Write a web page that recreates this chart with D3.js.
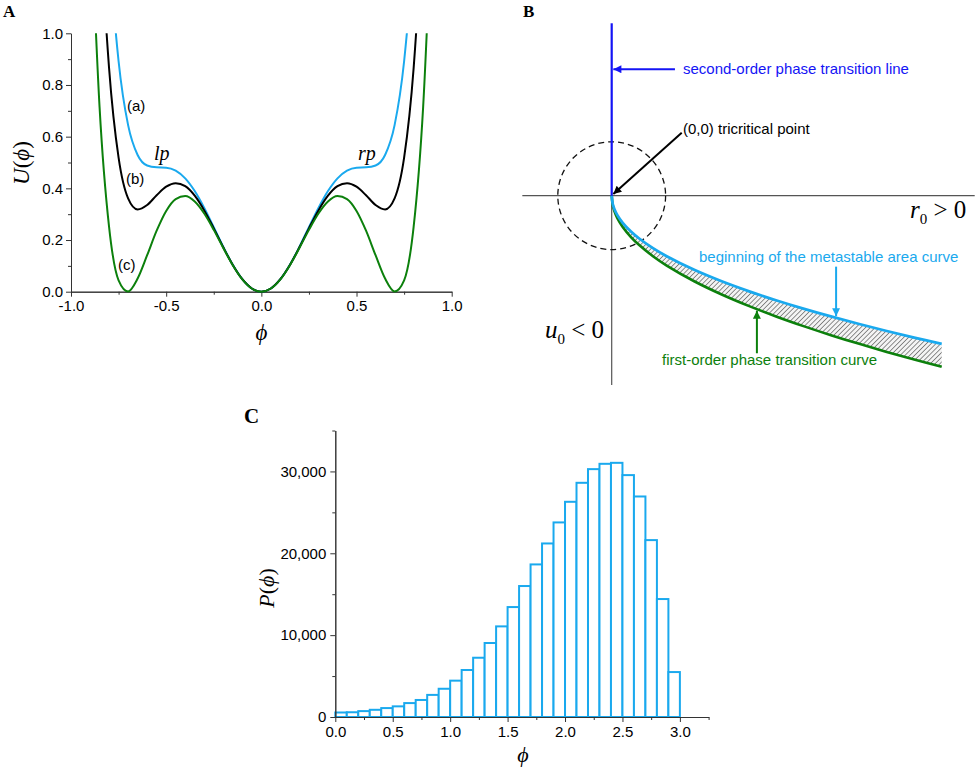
<!DOCTYPE html>
<html>
<head>
<meta charset="utf-8">
<script src="https://cdn.jsdelivr.net/npm/d3@7"></script>
<style>
body { margin: 0; background: #fff; }
svg { font-family: "Liberation Sans", Arial, sans-serif; }
</style>
</head>
<body>
<script>
// ---- panel A : potentials U(phi) ----
var phiA = [-0.90,-0.85,-0.80,-0.75,-0.70,-0.65,-0.60,-0.55,-0.50,-0.45,-0.40,-0.35,-0.30,-0.25,-0.20,-0.15,-0.10,-0.05,0,
  0.05,0.10,0.15,0.20,0.25,0.30,0.35,0.40,0.45,0.50,0.55,0.60,0.65,0.70,0.75,0.80,0.85,0.90];
var curveA = [3.3151,2.1143,1.3486,0.8919,0.6445,0.5292,0.4885,0.4812,0.4800,0.4684,0.4385,0.3894,0.3243,0.2497,0.1736,0.1040,0.0483,0.0124,0,
  0.0124,0.0483,0.1040,0.1736,0.2497,0.3243,0.3894,0.4385,0.4684,0.4800,0.4812,0.4885,0.5292,0.6445,0.8919,1.3486,2.1143,3.3151];
var curveB = [2.5409,1.4983,0.8653,0.5186,0.3611,0.3185,0.3355,0.3732,0.4063,0.4200,0.4083,0.3716,0.3147,0.2451,0.1717,0.1034,0.0482,0.0124,0,
  0.0124,0.0482,0.1034,0.1717,0.2451,0.3147,0.3716,0.4083,0.4200,0.4063,0.3732,0.3355,0.3185,0.3611,0.5186,0.8653,1.4983,2.5409];
var curveC = [1.5568,0.7154,0.2509,0.0439,0.0010,0.0508,0.1411,0.2360,0.3125,0.3585,0.3699,0.3491,0.3026,0.2393,0.1693,0.1026,0.0480,0.0124,0,
  0.0124,0.0480,0.1026,0.1693,0.2393,0.3026,0.3491,0.3699,0.3585,0.3125,0.2360,0.1411,0.0508,0.0010,0.0439,0.2509,0.7154,1.5568];
var xTicksA = [-1.0,-0.5,0.0,0.5,1.0];
var xMinorA = [-0.75,-0.25,0.25,0.75];
var yTicksA = [0,0.2,0.4,0.6,0.8,1.0];
var yMinorA = [0.1,0.3,0.5,0.7,0.9];

// ---- panel B : phase diagram ----
var r0B = [0,0.02,0.05,0.1,0.2,0.35,0.5,0.75,1,1.5,2,2.5,3,3.5,4,4.5,5,5.5,6];
var firstOrder = [0,-0.180,-0.284,-0.402,-0.568,-0.751,-0.898,-1.100,-1.270,-1.555,-1.796,-2.008,-2.200,-2.376,-2.540,-2.694,-2.840,-2.978,-3.111];
var metastable = [0,-0.156,-0.246,-0.348,-0.492,-0.651,-0.778,-0.953,-1.100,-1.347,-1.556,-1.739,-1.905,-2.058,-2.200,-2.333,-2.460,-2.580,-2.694];
var secondOrderU = [0, 3.135];

// ---- panel C : histogram P(phi) ----
var binLeft = [0.0,0.1,0.2,0.3,0.4,0.5,0.6,0.7,0.8,0.9,1.0,1.1,1.2,1.3,1.4,1.5,1.6,1.7,1.8,1.9,2.0,2.1,2.2,2.3,2.4,2.5,2.6,2.7,2.8,2.9];
var counts = [550,580,720,880,1090,1300,1700,2080,2700,3450,4440,5740,7240,9040,11070,13430,16000,18640,21200,23770,26290,28610,30280,30930,31050,29550,26940,21610,14410,5490];
var xTicksC = [0,0.5,1.0,1.5,2.0,2.5,3.0];
var xMinorC = [0.25,0.75,1.25,1.75,2.25,2.75,3.25];
var yTicksC = [0,10000,20000,30000];
var yMinorC = [5000,15000,25000,35000];

var cyan = "#1aa9ee", green = "#0c800c", blue = "#1414f5", axisCol = "#333";
var fix1 = function(d){ return d.toFixed(1); };

var svg = d3.select("body").append("svg").attr("width", 976).attr("height", 769);
var defs = svg.append("defs");

function drawAxis(g, axis) {
  g.call(axis);
  g.selectAll("path.domain").attr("stroke", axisCol);
  g.selectAll(".tick line").attr("stroke", axisCol);
  g.selectAll("text").attr("font-size", "15px").attr("fill", "#000")
    .attr("font-family", "'Liberation Sans', Arial, sans-serif");
}

// ================= A =================
var xA = d3.scaleLinear().domain([-1, 1]).range([71, 451.7]);
var yA = d3.scaleLinear().domain([0, 1]).range([291.7, 33.3]);

defs.append("clipPath").attr("id", "clipA").append("rect")
  .attr("x", xA(-1)).attr("y", yA(1)).attr("width", xA(1) - xA(-1)).attr("height", yA(0) - yA(1) + 4);

var gA = svg.append("g");
drawAxis(gA.append("g").attr("transform", "translate(0," + yA(0) + ")"),
  d3.axisBottom(xA).tickValues(xTicksA).tickFormat(fix1).tickSize(5).tickSizeOuter(0).tickPadding(4));
drawAxis(gA.append("g").attr("transform", "translate(0," + yA(0) + ")"),
  d3.axisBottom(xA).tickValues(xMinorA).tickFormat("").tickSize(3).tickSizeOuter(0));
drawAxis(gA.append("g").attr("transform", "translate(" + xA(-1) + ",0)"),
  d3.axisLeft(yA).tickValues(yTicksA).tickFormat(fix1).tickSize(5).tickSizeOuter(0).tickPadding(3));
drawAxis(gA.append("g").attr("transform", "translate(" + xA(-1) + ",0)"),
  d3.axisLeft(yA).tickValues(yMinorA).tickFormat("").tickSize(3).tickSizeOuter(0));

var lineA = d3.line().x(function(d){ return xA(d[0]); }).y(function(d){ return yA(d[1]); }).curve(d3.curveMonotoneX);
var seriesA = [
  {vals: curveA, color: cyan},
  {vals: curveB, color: "#000"},
  {vals: curveC, color: green}
];
gA.append("g").attr("clip-path", "url(#clipA)").selectAll("path").data(seriesA).enter().append("path")
  .attr("d", function(s){ return lineA(phiA.map(function(p, i){ return [p, s.vals[i]]; })); })
  .attr("fill", "none").attr("stroke", function(s){ return s.color; }).attr("stroke-width", 2);

gA.append("text").attr("x", 127).attr("y", 111).attr("font-size", "15px").text("(a)");
gA.append("text").attr("x", 126).attr("y", 184).attr("font-size", "15px").text("(b)");
gA.append("text").attr("x", 118).attr("y", 270).attr("font-size", "15px").text("(c)");
gA.append("text").attr("x", 154).attr("y", 160).attr("font-family", "'Liberation Serif', serif")
  .attr("font-style", "italic").attr("font-size", "20px").text("lp");
gA.append("text").attr("x", 358).attr("y", 160).attr("font-family", "'Liberation Serif', serif")
  .attr("font-style", "italic").attr("font-size", "20px").text("rp");
gA.append("text").attr("transform", "translate(29,163) rotate(-90)").attr("text-anchor", "middle")
  .attr("font-family", "'Liberation Serif', serif").attr("font-size", "23px")
  .html("<tspan font-style='italic'>U</tspan>(<tspan font-style='italic'>ϕ</tspan>)");
gA.append("text").attr("x", xA(0)).attr("y", 340).attr("text-anchor", "middle")
  .attr("font-family", "'Liberation Serif', serif").attr("font-style", "italic").attr("font-size", "23px").text("ϕ");
svg.append("text").attr("x", 3).attr("y", 17).attr("font-family", "'Liberation Serif', serif")
  .attr("font-weight", "bold").attr("font-size", "17px").text("A");

// ================= B =================
var xB = d3.scaleLinear().domain([0, 6]).range([611.7, 941.7]);
var yB = d3.scaleLinear().domain([0, -1]).range([195.7, 250.7]);

var pat = defs.append("pattern").attr("id", "hatch").attr("patternUnits", "userSpaceOnUse")
  .attr("width", 3.4).attr("height", 3.4).attr("patternTransform", "rotate(45)");
pat.append("rect").attr("width", 3.4).attr("height", 3.4).attr("fill", "#f4f4f4");
pat.append("line").attr("x1", 0).attr("y1", 0).attr("x2", 0).attr("y2", 3.4)
  .attr("stroke", "#555").attr("stroke-width", 1.3);

function marker(id, color) {
  defs.append("marker").attr("id", id).attr("viewBox", "0 0 10 10").attr("refX", 10).attr("refY", 5)
    .attr("markerUnits", "userSpaceOnUse").attr("markerWidth", 10).attr("markerHeight", 8)
    .attr("orient", "auto").append("path").attr("d", "M0,0L10,5L0,10z").attr("fill", color);
}
marker("mBlue", blue); marker("mBlack", "#000"); marker("mCyan", cyan); marker("mGreen", green);

var gB = svg.append("g");
gB.append("line").attr("x1", xB(-1.625)).attr("x2", xB(6.6)).attr("y1", yB(0)).attr("y2", yB(0))
  .attr("stroke", "#555").attr("stroke-width", 1.2);
gB.append("line").attr("x1", xB(0)).attr("x2", xB(0)).attr("y1", yB(0)).attr("y2", yB(-3.44))
  .attr("stroke", "#555").attr("stroke-width", 1.2);
gB.append("circle").attr("cx", xB(0)).attr("cy", yB(0)).attr("r", xB(0.98) - xB(0))
  .attr("fill", "none").attr("stroke", "#111").attr("stroke-width", 1.3).attr("stroke-dasharray", "6,4");

var area = d3.area().x(function(d){ return xB(d[0]); }).y0(function(d){ return yB(d[1]); })
  .y1(function(d){ return yB(d[2]); }).curve(d3.curveCatmullRom.alpha(0.5));
gB.append("path").attr("d", area(r0B.map(function(r, i){ return [r, firstOrder[i], metastable[i]]; })))
  .attr("fill", "url(#hatch)");
var lineB = d3.line().x(function(d){ return xB(d[0]); }).y(function(d){ return yB(d[1]); })
  .curve(d3.curveCatmullRom.alpha(0.5));
gB.append("path").attr("d", lineB(r0B.map(function(r, i){ return [r, firstOrder[i]]; })))
  .attr("fill", "none").attr("stroke", green).attr("stroke-width", 2.6);
gB.append("path").attr("d", lineB(r0B.map(function(r, i){ return [r, metastable[i]]; })))
  .attr("fill", "none").attr("stroke", cyan).attr("stroke-width", 2.8);
gB.append("line").attr("x1", xB(0)).attr("x2", xB(0)).attr("y1", yB(secondOrderU[0])).attr("y2", yB(secondOrderU[1]))
  .attr("stroke", blue).attr("stroke-width", 2.2);

function arrow(x1, y1, x2, y2, color, m) {
  gB.append("line").attr("x1", xB(x1)).attr("y1", yB(y1)).attr("x2", xB(x2)).attr("y2", yB(y2))
    .attr("stroke", color).attr("stroke-width", 2).attr("marker-end", "url(#" + m + ")");
}
arrow(1.15, 2.3, 0.03, 2.3, blue, "mBlue");
arrow(1.273, 1.145, 0.03, 0.03, "#000", "mBlack");
arrow(4.08, -1.29, 4.08, -2.19, cyan, "mCyan");
arrow(2.64, -2.865, 2.64, -2.09, green, "mGreen");

gB.append("text").attr("x", 683).attr("y", 74).attr("font-size", "15px").attr("fill", blue)
  .text("second-order phase transition line");
gB.append("text").attr("x", 683).attr("y", 134).attr("font-size", "15px").attr("fill", "#000")
  .text("(0,0) tricritical point");
gB.append("text").attr("x", 699).attr("y", 262).attr("font-size", "15px").attr("fill", cyan)
  .text("beginning of the metastable area curve");
gB.append("text").attr("x", 662).attr("y", 365).attr("font-size", "15px").attr("fill", green)
  .text("first-order phase transition curve");
gB.append("text").attr("x", 910).attr("y", 218).attr("font-family", "'Liberation Serif', serif").attr("font-size", "25px")
  .html("<tspan font-style='italic'>r</tspan><tspan font-size='15px' dy='6'>0</tspan><tspan dy='-6'> &gt; 0</tspan>");
gB.append("text").attr("x", 545).attr("y", 338).attr("font-family", "'Liberation Serif', serif").attr("font-size", "25px")
  .html("<tspan font-style='italic'>u</tspan><tspan font-size='15px' dy='6'>0</tspan><tspan dy='-6'> &lt; 0</tspan>");
svg.append("text").attr("x", 523).attr("y", 17).attr("font-family", "'Liberation Serif', serif")
  .attr("font-weight", "bold").attr("font-size", "17px").text("B");

// ================= C =================
var xC = d3.scaleLinear().domain([0, 3.25]).range([335.3, 708.6]);
var yC = d3.scaleLinear().domain([0, 35000]).range([717, 430.5]);

var gC = svg.append("g");
gC.selectAll("rect").data(binLeft).enter().append("rect")
  .attr("x", function(d){ return xC(d); })
  .attr("width", function(d){ return xC(d + 0.1) - xC(d); })
  .attr("y", function(d, i){ return yC(counts[i]); })
  .attr("height", function(d, i){ return yC(0) - yC(counts[i]); })
  .attr("fill", "#fff").attr("stroke", cyan).attr("stroke-width", 2);

drawAxis(gC.append("g").attr("transform", "translate(0," + yC(0) + ")"),
  d3.axisBottom(xC).tickValues(xTicksC).tickFormat(fix1).tickSize(5).tickSizeOuter(0).tickPadding(4));
drawAxis(gC.append("g").attr("transform", "translate(0," + yC(0) + ")"),
  d3.axisBottom(xC).tickValues(xMinorC).tickFormat("").tickSize(3).tickSizeOuter(0));
drawAxis(gC.append("g").attr("transform", "translate(" + xC(0) + ",0)"),
  d3.axisLeft(yC).tickValues(yTicksC).tickFormat(d3.format(",")).tickSize(5).tickSizeOuter(0).tickPadding(4));
drawAxis(gC.append("g").attr("transform", "translate(" + xC(0) + ",0)"),
  d3.axisLeft(yC).tickValues(yMinorC).tickFormat("").tickSize(3).tickSizeOuter(0));

gC.append("text").attr("transform", "translate(274,588) rotate(-90)").attr("text-anchor", "middle")
  .attr("font-family", "'Liberation Serif', serif").attr("font-size", "22px")
  .html("<tspan font-style='italic'>P</tspan>(<tspan font-style='italic'>ϕ</tspan>)");
gC.append("text").attr("x", 523).attr("y", 762).attr("text-anchor", "middle")
  .attr("font-family", "'Liberation Serif', serif").attr("font-style", "italic").attr("font-size", "22px").text("ϕ");
svg.append("text").attr("x", 244).attr("y", 423).attr("font-family", "'Liberation Serif', serif")
  .attr("font-weight", "bold").attr("font-size", "21px").text("C");
</script>
</body>
</html>
